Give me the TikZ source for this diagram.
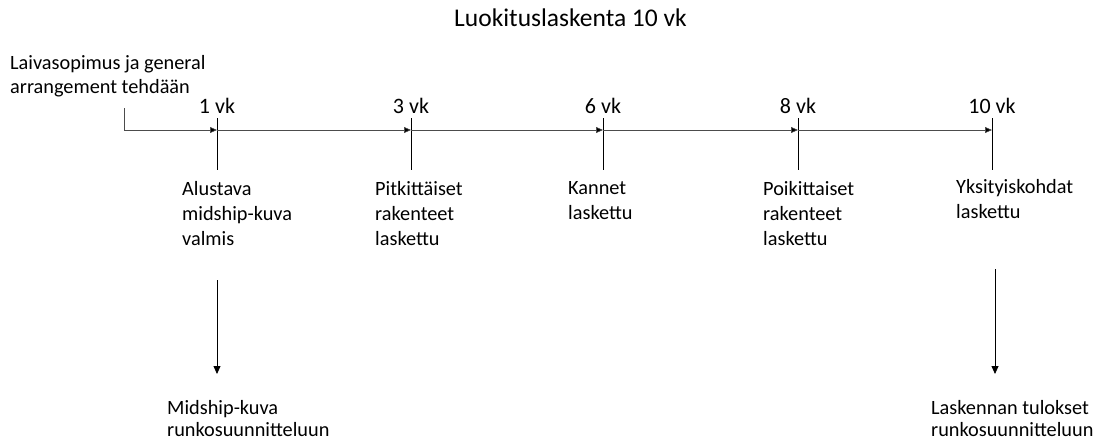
\documentclass[tikz,border=0pt]{standalone}
\usepackage{fontspec}
\setmainfont{Carlito}
\usetikzlibrary{arrows.meta}
\begin{document}
\begin{tikzpicture}[x=1pt,y=-1pt,
  txt/.style={anchor=base west,inner sep=0pt,align=left,font=\fontsize{20.3}{25}\selectfont},
  btxt/.style={txt,font=\fontsize{20.3}{21.5}\selectfont},
  wk/.style={anchor=base,inner sep=0pt,font=\fontsize{22}{26}\selectfont},
  tick/.style={line width=0.8pt},
  arr/.style={line width=0.8pt,-{Triangle[length=8pt,width=7pt]}},
  harr/.style={line width=0.6pt,draw=black!70,-{Triangle[length=7pt,width=6pt,fill=black]}}]
\useasboundingbox (0,0) rectangle (1103,439);
% title
\node[anchor=base,inner sep=0pt,font=\fontsize{25.5}{30}\selectfont] (title) at (570.5,27) {Luokituslaskenta 10 vk};
% start text (base = last line baseline)
\node[txt,font=\fontsize{20.3}{24}\selectfont] (start) at (10,93) {Laivasopimus ja general\\arrangement tehdään};
\coordinate (s0) at (124,108);
\coordinate (s1) at (124,130);
% ticks
\foreach \n/\x/\l in {a/217/1 vk,b/411/3 vk,c/603/6 vk,d/798/8 vk,e/992/10 vk}{
  \coordinate (\n top) at (\x,118);
  \coordinate (\n) at (\x,130);
  \coordinate (\n bot) at (\x,170);
  \node[wk] (\n lab) at (\x,113) {\l};
  \draw[tick] (\n top) -- (\n bot);
}
\draw[line width=0.6pt,draw=black!70] (s0) -- (s1);
\draw[harr] (s1) -- (a);
\draw[harr] (a) -- (b);
\draw[harr] (b) -- (c);
\draw[harr] (c) -- (d);
\draw[harr] (d) -- (e);
% descriptions
\node[txt] (ta) at (182,245) {Alustava\\midship-kuva\\valmis};
\node[txt] (tb) at (375,245) {Pitkittäiset\\rakenteet\\laskettu};
\node[txt] (tc) at (568,219) {Kannet\\laskettu};
\node[txt] (td) at (763,245) {Poikittaiset\\rakenteet\\laskettu};
\node[txt] (te) at (956,218) {Yksityiskohdat\\laskettu};
% down arrows
\coordinate (da0) at (217,280);
\coordinate (da1) at (217,374);
\coordinate (de0) at (995,269);
\coordinate (de1) at (995,374);
\draw[arr] (da0) -- (da1);
\draw[arr] (de0) -- (de1);
\node[btxt] (ra) at (167,436) {Midship-kuva\\runkosuunnitteluun};
\node[btxt] (re) at (931,436) {Laskennan tulokset\\runkosuunnitteluun};
\end{tikzpicture}
\end{document}
